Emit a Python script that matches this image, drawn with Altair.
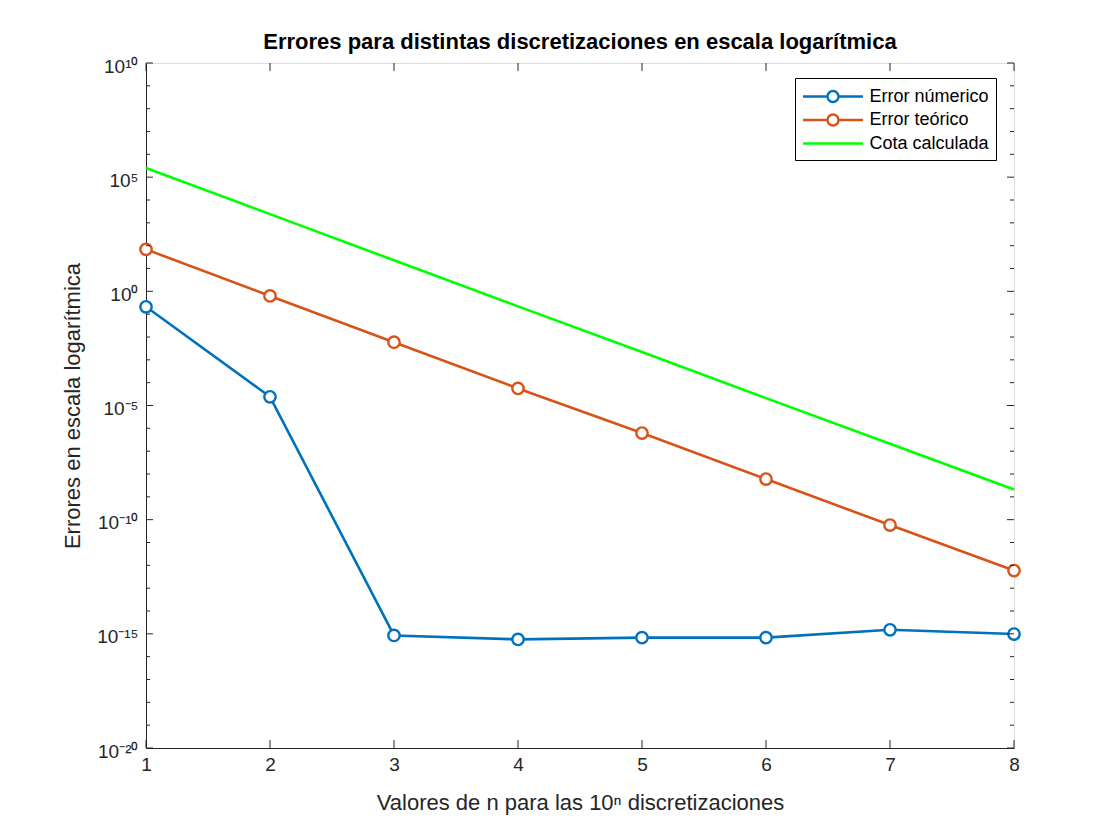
import altair as alt
import pandas as pd

# ---- data ----
n_values = [1, 2, 3, 4, 5, 6, 7, 8]
error_numerico = [0.21, 2.4e-5, 8.5e-16, 5.7e-16, 6.8e-16, 6.8e-16, 1.5e-15, 9.8e-16]
error_teorico = [69.0, 0.63, 5.9e-3, 5.6e-5, 6.2e-7, 6.0e-9, 5.8e-11, 5.9e-13]
cota_calculada = [2.5e5, 2.4e3, 23.0, 0.22, 2.2e-3, 2.1e-5, 2.1e-7, 2.1e-9]

series_names = ["Error númerico", "Error teórico", "Cota calculada"]
series_colors = ["#0072BD", "#D95319", "#00FF00"]

y_label_exps = [-20, -15, -10, -5, 0, 5, 10]
y_tick_exps = list(range(-20, 11))
x_ticks = [1, 2, 3, 4, 5, 6, 7, 8]

title_text = "Errores para distintas discretizaciones en escala logarítmica"
x_title = "Valores de n para las 10ⁿ discretizaciones"
y_title = "Errores en escala logarítmica"

# ---- tables ----
rows = []
for name, vals in zip(series_names, [error_numerico, error_teorico, cota_calculada]):
    for n, v in zip(n_values, vals):
        rows.append({"n": n, "error": v, "serie": name})
df = pd.DataFrame(rows)
df_markers = df[df["serie"] != "Cota calculada"]

major_df = pd.DataFrame({"error": [10.0 ** e for e in y_tick_exps if e % 5 == 0]})
minor_df = pd.DataFrame({"error": [10.0 ** e for e in y_tick_exps if e % 5 != 0]})
xt_df = pd.DataFrame({"n": x_ticks})

W, H = 868, 685
FONT = "Liberation Sans"
TXT = "#262626"

sup = str.maketrans("-0123456789", "⁻⁰¹²³⁴⁵⁶⁷⁸⁹")
label_expr = "''"
for e in reversed(y_label_exps):
    label_expr = f"(round(log(datum.value)/LN10) == {e}) ? '10{str(e).translate(sup)}' : ({label_expr})"

xscale = alt.Scale(domain=[1, 8], nice=False, zero=False)
yscale = alt.Scale(type="log", domain=[1e-20, 1e10], nice=False)

x_axis = alt.Axis(
    values=x_ticks, format="d", ticks=False, grid=False, labelPadding=7,
    labelFontSize=19, labelFont=FONT, labelColor=TXT, labelFlush=False,
    domainColor=TXT, title=x_title, titleFont=FONT, titleFontSize=22,
    titleFontWeight="normal", titleColor=TXT, titleY=54, titleBaseline="middle",
)
y_axis = alt.Axis(
    values=[10.0 ** e for e in y_label_exps], labelExpr=label_expr, ticks=False,
    grid=False, labelPadding=8, labelFontSize=19, labelFont=FONT, labelColor=TXT,
    labelOffset=3, labelFlush=False, labelLimit=0, domainColor=TXT, title=y_title,
    titleFont=FONT, titleFontSize=22, titleFontWeight="normal", titleColor=TXT,
    titleX=-74, titleY=H / 2, titleAlign="center", titleBaseline="middle",
    titleAngle=270,
)

color_scale = alt.Scale(domain=series_names, range=series_colors)

circ_path = "M-3,0H-0.55M0.55,0H3M-0.55,0A0.55,0.55,0,1,1,0.55,0A0.55,0.55,0,1,1,-0.55,0"
line_path = "M-3,0H3"
shape_scale = alt.Scale(domain=series_names, range=[circ_path, circ_path, line_path])

legend = alt.Legend(
    title=None, orient="none", legendX=649, legendY=15,
    strokeColor="black", fillColor="white", padding=7, cornerRadius=0,
    labelFont=FONT, labelFontSize=18, labelColor="black",
    symbolSize=400, symbolStrokeWidth=2.4, symbolOffset=19.5, labelOffset=25,
    symbolOpacity=1, symbolFillColor="white", rowPadding=1.5, symbolType=circ_path,
)

X = alt.X("n:Q", scale=xscale, axis=x_axis)
Y = alt.Y("error:Q", scale=yscale, axis=y_axis)
C = alt.Color("serie:N", scale=color_scale, legend=legend)

lines = alt.Chart(df).mark_line(strokeWidth=2.6).encode(
    x=X, y=Y, color=C, detail="serie:N",
)

points = alt.Chart(df_markers).mark_point(
    shape="circle", filled=False, fill="white", size=130, strokeWidth=2.4, opacity=1
).encode(x=X, y=Y, color=C)

legend_src = alt.Chart(df).mark_point(filled=False, opacity=0).encode(
    x=X, y=Y, color=C,
    shape=alt.Shape("serie:N", scale=shape_scale, legend=legend),
)


def yticks(data, length, right):
    x0 = W if right else 0
    x1 = W - length if right else length
    return alt.Chart(data).mark_rule(color=TXT, strokeWidth=1).encode(
        y=Y, x=alt.value(x0), x2=alt.value(x1),
    )


def xticks(top):
    y0 = 0 if top else H
    y1 = 8 if top else H - 8
    return alt.Chart(xt_df).mark_rule(color=TXT, strokeWidth=1).encode(
        x=X, y=alt.value(y0), y2=alt.value(y1),
    )


chart = alt.layer(
    lines, points, legend_src,
    yticks(major_df, 7, False), yticks(minor_df, 4, False),
    yticks(major_df, 7, True), yticks(minor_df, 4, True),
    xticks(False), xticks(True),
).properties(
    width=W, height=H,
    title=alt.TitleParams(title_text, font=FONT, fontSize=22, fontWeight="bold",
                          color="black", anchor="middle", offset=3),
    autosize=alt.AutoSizeParams(type="none"),
    padding={"left": 138, "top": 55, "right": 90, "bottom": 80},
).configure_view(stroke=TXT, strokeWidth=1).configure(background="white")

chart.save("out.html", embed_options={"renderer": "svg", "actions": False})
